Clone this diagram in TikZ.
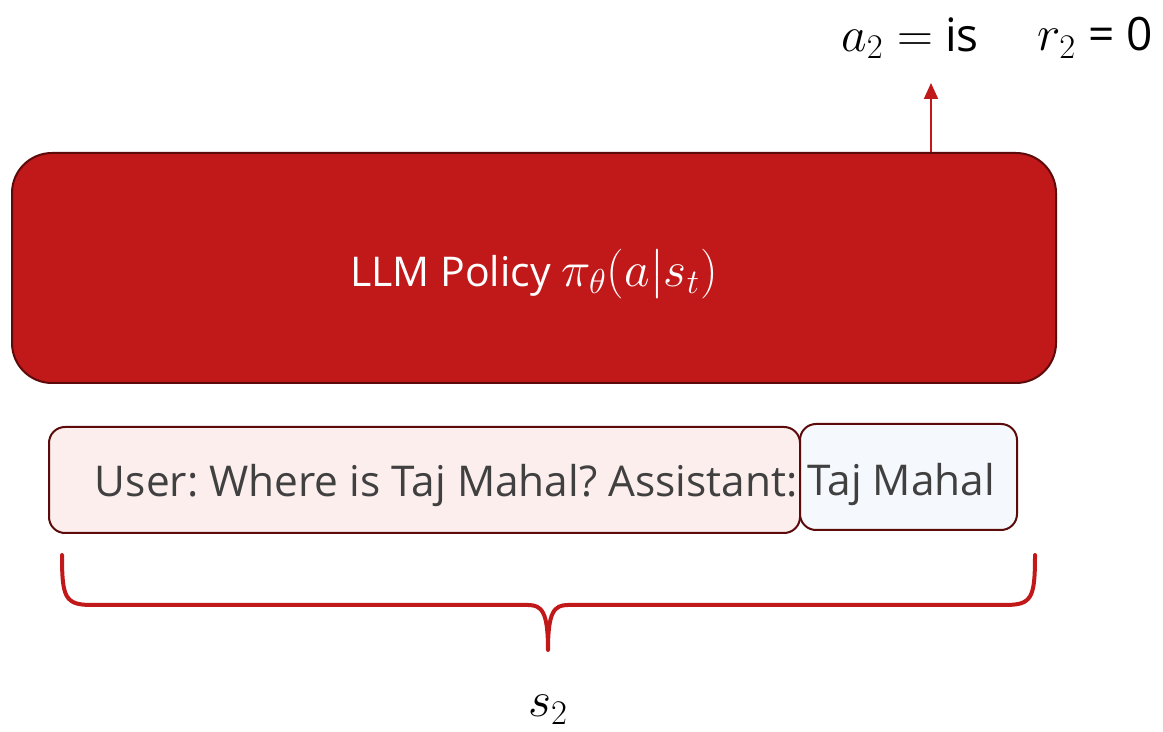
\documentclass[tikz,border=0pt]{standalone}
\usepackage{fontspec}
\setmainfont{Open Sans}
\usetikzlibrary{positioning, arrows.meta, calc}

\definecolor{policyred}{RGB}{193,24,26}
\definecolor{edgered}{RGB}{92,10,10}
\definecolor{promptfill}{RGB}{253,238,238}
\definecolor{tokenfill}{RGB}{245,248,252}
\definecolor{textgray}{RGB}{64,64,64}
\frenchspacing

\begin{document}
\begin{tikzpicture}[
  x=0.5pt, y=-0.5pt,
  policy/.style={draw=edgered, fill=policyred, line width=1pt, rounded corners=20pt,
    minimum width=522pt, minimum height=115pt, inner sep=0pt, text=white, font=\fontsize{20.5}{24}\selectfont},
  prompt/.style={draw=edgered, fill=promptfill, line width=1pt, rounded corners=8pt,
    minimum width=375.5pt, minimum height=53pt, inner sep=0pt},
  token/.style={draw=edgered, fill=tokenfill, line width=1pt, rounded corners=8pt,
    minimum width=108.5pt, minimum height=53pt, inner sep=0pt},
  seqtext/.style={text=textgray, font=\fontsize{21.2}{25}\selectfont, inner sep=0pt},
  toplabel/.style={font=\fontsize{23}{27}\selectfont, inner sep=0pt},
  act/.style={-{Triangle[length=8pt, width=7pt]}, line width=1pt, draw=policyred},
  brace/.style={line width=2pt, draw=policyred, line join=round, line cap=round}
]
\useasboundingbox (0,0) rectangle (1163,732);

% the policy
\node[policy] (llm) at (534,268) {};
\node[text=white, font=\fontsize{20.5}{24}\selectfont, inner sep=0pt] (llmtext) at (534,274)
  {LLM Policy {\fontsize{26}{30}\selectfont$\pi_\theta(a|s_t)$}};

% action and reward
\node[toplabel] (act2) at (910,38) {$a_2 =$ is};
\node[toplabel] (rew2) at (1095,38) {$r_2$ = 0};
\coordinate (tip) at (931,83);
\draw[act] (llm.north -| tip) -- (tip);

% the state: prompt and generated token
\node[prompt] (ctx) at (424.5,480) {};
\node[token] (tok) at (908.5,477) {};
\node[seqtext, anchor=east] (ctxtext) at ($(ctx.east)+(-3,5)$) {User: Where is Taj Mahal? Assistant:};
\node[seqtext, anchor=west] (toktext) at ($(tok.west)+(8,7)$) {Taj Mahal};

% brace over the state
\coordinate (bl) at (62,555);
\coordinate (br) at (1035,555);
\coordinate (bm) at (548,650);
\draw[brace] (bl) .. controls (62,598) and (65,605) .. (92,605) -- (528,605)
  .. controls (542,605) and (548,612) .. (bm)
  .. controls (548,612) and (554,605) .. (568,605) -- (1005,605)
  .. controls (1032,605) and (1035,598) .. (br);
\node[toplabel] (s2) at (548,710) {$s_2$};

\end{tikzpicture}
\end{document}
